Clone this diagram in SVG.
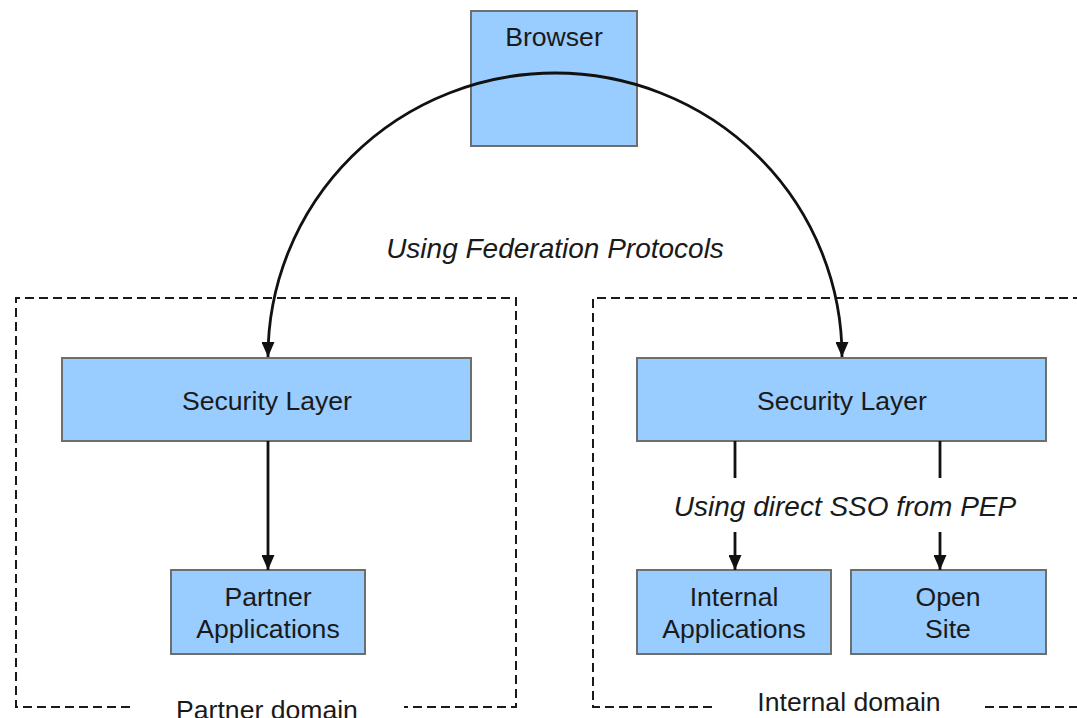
<svg xmlns="http://www.w3.org/2000/svg" width="1077" height="718" viewBox="0 0 1077 718">
  <style>
    .box { fill: #99ccff; stroke: #6e6e6e; stroke-width: 2; }
    .domain { fill: none; stroke: #1a1a1a; stroke-width: 2; stroke-dasharray: 9 5; }
    .lbl { font-family: "Liberation Sans", Arial, sans-serif; font-size: 26.6px; fill: #1a1a1a; text-anchor: middle; }
    .note { font-style: italic; font-size: 28px; }
    .edge { fill: none; stroke: #111; stroke-width: 2.8; }
  </style>
  <defs>
    <marker id="arrow" viewBox="0 0 15 13" refX="15" refY="6.5" markerWidth="15" markerHeight="13" markerUnits="userSpaceOnUse" orient="auto-start-reverse">
      <path d="M0,0 L15,6.5 L0,13 Z" fill="#111"/>
    </marker>
  </defs>
  <rect width="1077" height="718" fill="#ffffff"/>

  <!-- Trust domains -->
  <g id="partner-domain">
    <path class="domain" d="M130,707 H16 V298 H516 V707 H404"/>
    <text class="lbl" x="267" y="719">Partner domain</text>
  </g>
  <g id="internal-domain">
    <path class="domain" d="M712,707 H593 V298 H1090"/>
    <path class="domain" d="M985,707 H1090"/>
    <text class="lbl" x="849" y="711">Internal domain</text>
  </g>

  <!-- Nodes -->
  <g id="browser">
    <rect class="box" x="471" y="11" width="166" height="135"/>
    <text class="lbl" x="554" y="46">Browser</text>
  </g>
  <g id="security-layer-partner">
    <rect class="box" x="62" y="358" width="409" height="83"/>
    <text class="lbl" x="267" y="410">Security Layer</text>
  </g>
  <g id="security-layer-internal">
    <rect class="box" x="637" y="358" width="409" height="83"/>
    <text class="lbl" x="842" y="410">Security Layer</text>
  </g>
  <g id="partner-apps">
    <rect class="box" x="171" y="570" width="194" height="84"/>
    <text class="lbl" x="268" y="606">Partner</text>
    <text class="lbl" x="268" y="638">Applications</text>
  </g>
  <g id="internal-apps">
    <rect class="box" x="637" y="570" width="194" height="84"/>
    <text class="lbl" x="734" y="606">Internal</text>
    <text class="lbl" x="734" y="638">Applications</text>
  </g>
  <g id="open-site">
    <rect class="box" x="851" y="570" width="195" height="84"/>
    <text class="lbl" x="948" y="606">Open</text>
    <text class="lbl" x="948" y="638">Site</text>
  </g>

  <!-- Connectors -->
  <g id="connectors">
    <path class="edge" d="M268,357 A287,284 0 0 1 842,357" marker-start="url(#arrow)" marker-end="url(#arrow)"/>
    <text class="lbl note" x="555" y="258">Using Federation Protocols</text>
    <path class="edge" d="M268,441 V570" marker-end="url(#arrow)"/>
    <path class="edge" d="M735,441 V478"/>
    <path class="edge" d="M735,532 V570" marker-end="url(#arrow)"/>
    <path class="edge" d="M940,441 V478"/>
    <path class="edge" d="M940,532 V570" marker-end="url(#arrow)"/>
    <text class="lbl note" x="845" y="516">Using direct SSO from PEP</text>
  </g>
</svg>
